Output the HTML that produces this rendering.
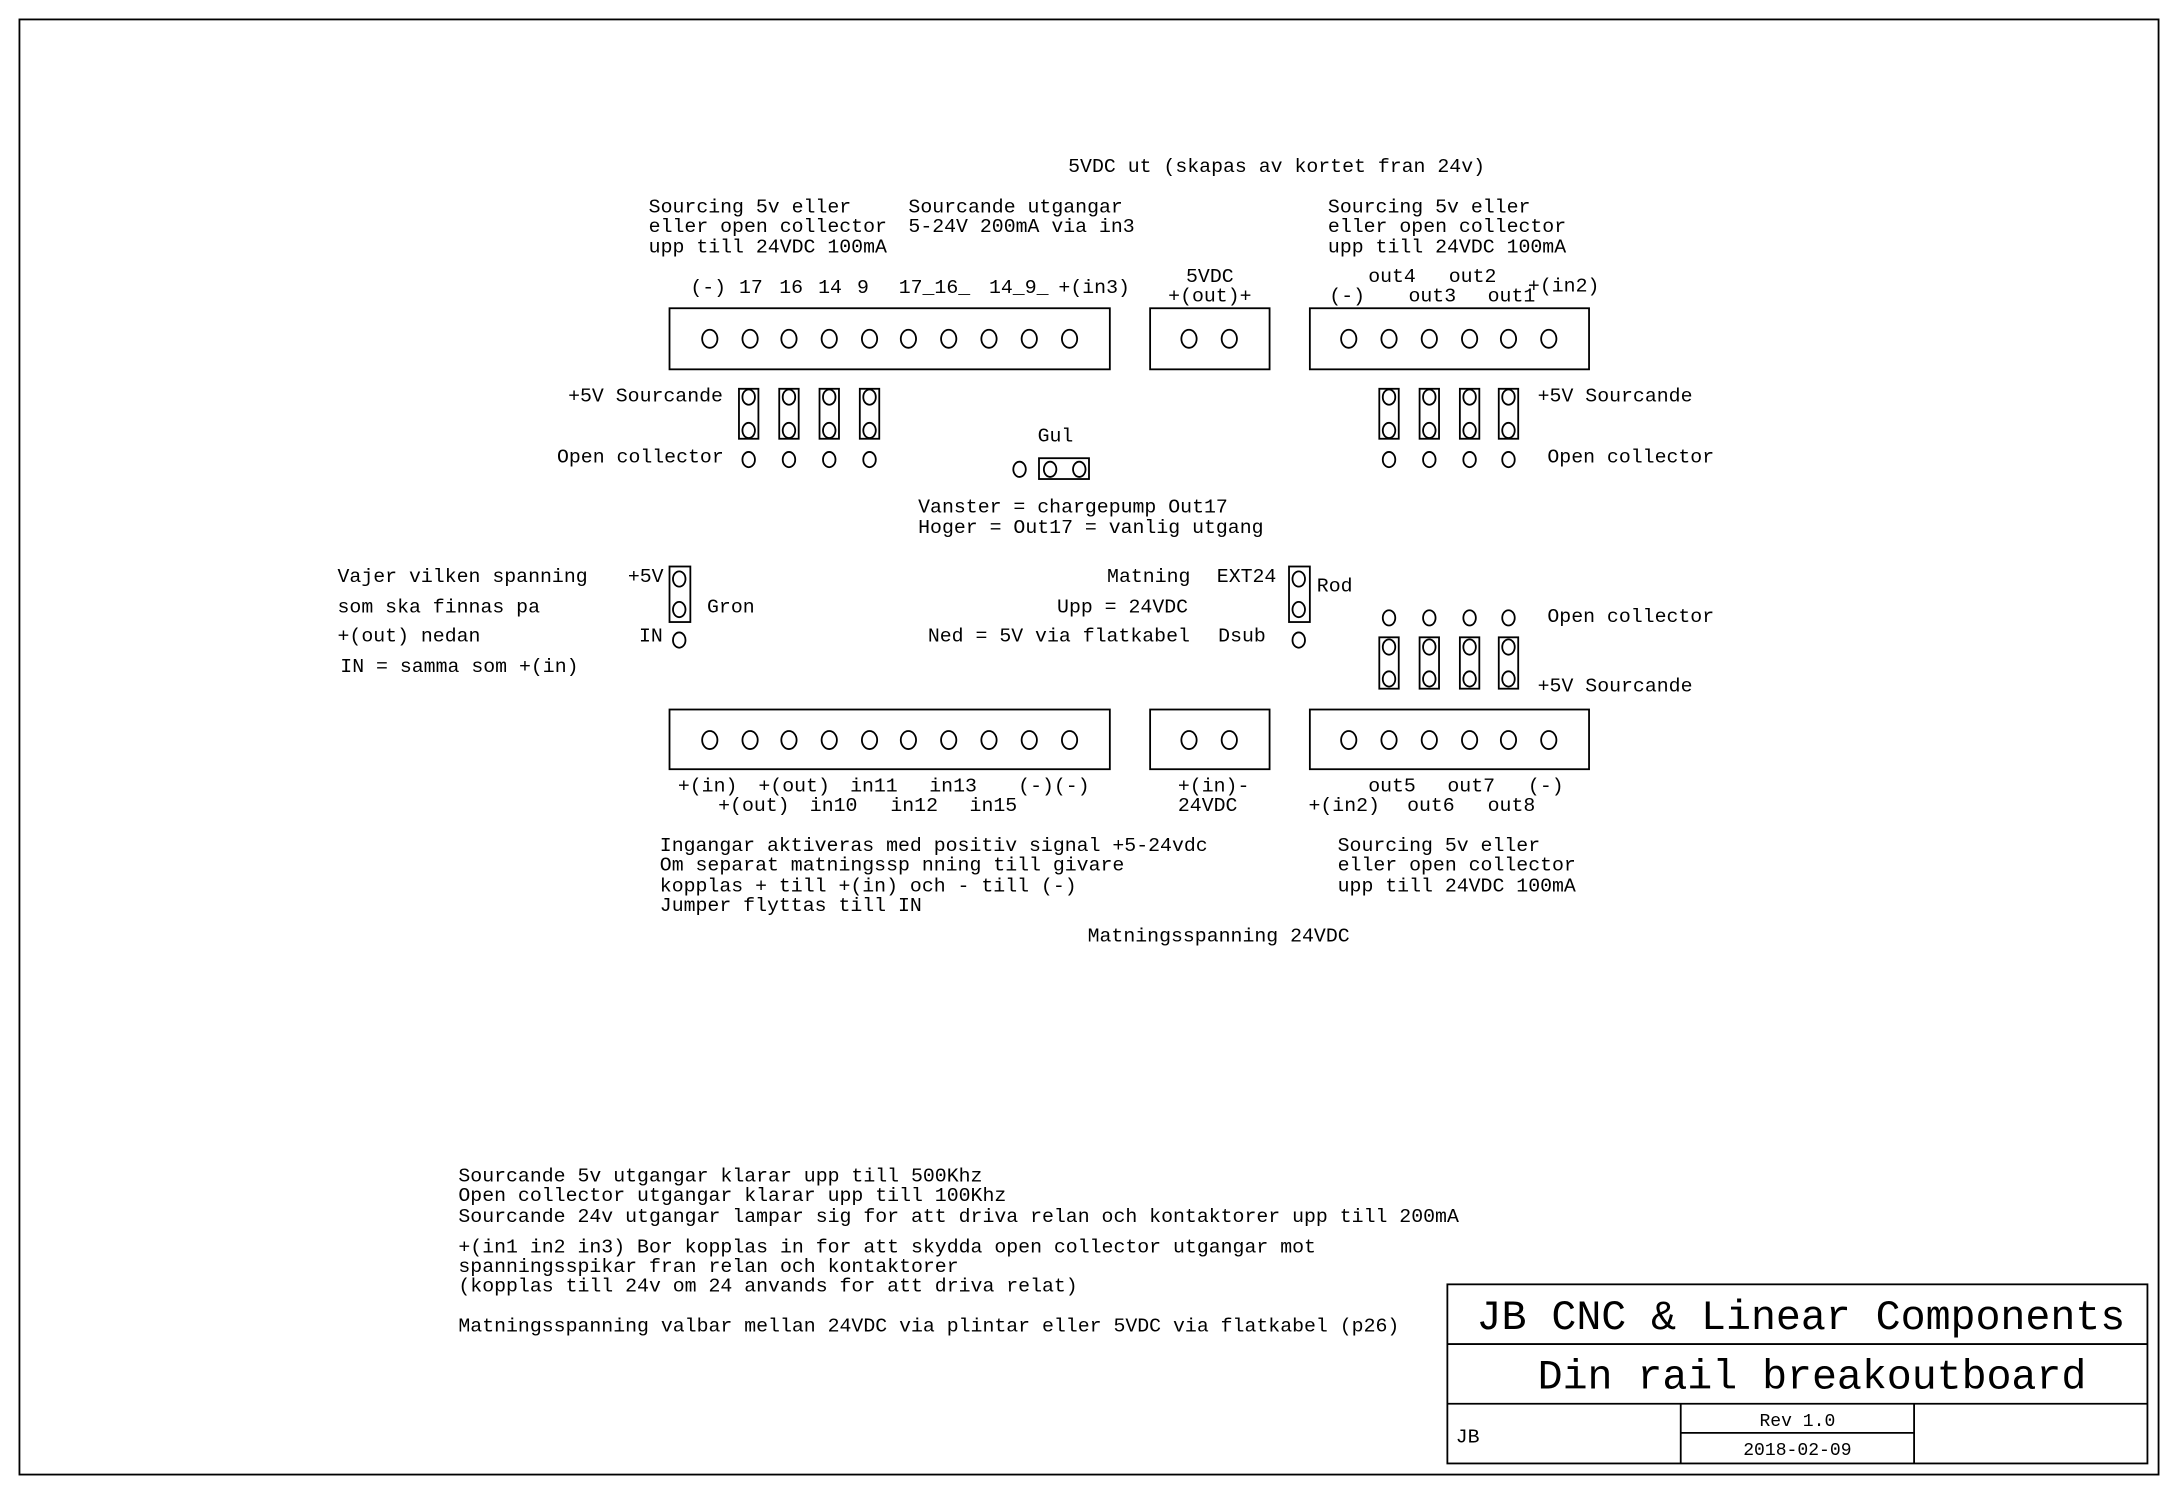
<!DOCTYPE html>
<html><head><meta charset="utf-8"><style>
html,body{margin:0;padding:0;background:#fff;}
svg{display:block;}
text{font-family:"Liberation Mono",monospace;font-size:14.3px;fill:#000;}
.c{text-anchor:middle;}
</style></head><body>
<svg width="2178" height="1494" viewBox="0 0 1568 1076" preserveAspectRatio="none" xmlns="http://www.w3.org/2000/svg">
<g fill="none" stroke="#000" stroke-width="1.3">
<rect x="14" y="14" width="1540" height="1048"/>
<rect x="1042" y="925" width="504" height="129"/>
<line x1="1042" y1="968" x2="1546" y2="968"/>
<line x1="1042" y1="1011" x2="1546" y2="1011"/>
<line x1="1210" y1="1011" x2="1210" y2="1054"/>
<line x1="1378" y1="1011" x2="1378" y2="1054"/>
<line x1="1210" y1="1032" x2="1378" y2="1032"/>
<!-- top connectors -->
<rect x="482" y="222" width="317" height="44"/>
<rect x="828" y="222" width="86" height="44"/>
<rect x="943" y="222" width="201" height="44"/>
<!-- bottom connectors -->
<rect x="482" y="511" width="317" height="43"/>
<rect x="828" y="511" width="86" height="43"/>
<rect x="943" y="511" width="201" height="43"/>
<g id="c10">
<ellipse cx="511" cy="244" rx="5.5" ry="6.5"/><ellipse cx="540" cy="244" rx="5.5" ry="6.5"/><ellipse cx="568" cy="244" rx="5.5" ry="6.5"/><ellipse cx="597" cy="244" rx="5.5" ry="6.5"/><ellipse cx="626" cy="244" rx="5.5" ry="6.5"/><ellipse cx="654" cy="244" rx="5.5" ry="6.5"/><ellipse cx="683" cy="244" rx="5.5" ry="6.5"/><ellipse cx="712" cy="244" rx="5.5" ry="6.5"/><ellipse cx="741" cy="244" rx="5.5" ry="6.5"/><ellipse cx="770" cy="244" rx="5.5" ry="6.5"/>
<ellipse cx="856" cy="244" rx="5.5" ry="6.5"/><ellipse cx="885" cy="244" rx="5.5" ry="6.5"/>
<ellipse cx="971" cy="244" rx="5.5" ry="6.5"/><ellipse cx="1000" cy="244" rx="5.5" ry="6.5"/><ellipse cx="1029" cy="244" rx="5.5" ry="6.5"/><ellipse cx="1058" cy="244" rx="5.5" ry="6.5"/><ellipse cx="1086" cy="244" rx="5.5" ry="6.5"/><ellipse cx="1115" cy="244" rx="5.5" ry="6.5"/>
</g>
<use href="#c10" transform="translate(0,289)"/>
<!-- left top jumpers -->
<g id="jl">
<rect x="532" y="280" width="14" height="36"/>
<ellipse cx="539" cy="286" rx="4.5" ry="5.5"/><ellipse cx="539" cy="310" rx="4.5" ry="5.5"/>
<ellipse cx="539" cy="331" rx="4.5" ry="5.5"/>
</g>
<use href="#jl" transform="translate(29,0)"/>
<use href="#jl" transform="translate(58,0)"/>
<use href="#jl" transform="translate(87,0)"/>
<use href="#jl" transform="translate(461,0)"/>
<use href="#jl" transform="translate(490,0)"/>
<use href="#jl" transform="translate(519,0)"/>
<use href="#jl" transform="translate(547,0)"/>
<!-- right bottom jumpers -->
<g id="jr">
<ellipse cx="1000" cy="445" rx="4.5" ry="5.5"/>
<rect x="993" y="459" width="14" height="37"/>
<ellipse cx="1000" cy="466" rx="4.5" ry="5.5"/><ellipse cx="1000" cy="489" rx="4.5" ry="5.5"/>
</g>
<use href="#jr" transform="translate(29,0)"/>
<use href="#jr" transform="translate(58,0)"/>
<use href="#jr" transform="translate(86,0)"/>
<!-- Gul -->
<ellipse cx="734" cy="338" rx="4.5" ry="5.5"/>
<rect x="748" y="330" width="36" height="15"/>
<ellipse cx="756" cy="338" rx="4.5" ry="5.5"/><ellipse cx="777" cy="338" rx="4.5" ry="5.5"/>
<!-- Gron -->
<rect x="482" y="408" width="15" height="40"/>
<ellipse cx="489" cy="417" rx="4.5" ry="5.5"/><ellipse cx="489" cy="439" rx="4.5" ry="5.5"/>
<ellipse cx="489" cy="461" rx="4.5" ry="5.5"/>
<!-- Rod -->
<rect x="928" y="408" width="15" height="40"/>
<ellipse cx="935" cy="417" rx="4.5" ry="5.5"/><ellipse cx="935" cy="439" rx="4.5" ry="5.5"/>
<ellipse cx="935" cy="461" rx="4.5" ry="5.5"/>
</g>

<text x="769" y="124">5VDC ut (skapas av kortet fran 24v)</text>
<text x="467" y="153">Sourcing 5v eller</text>
<text x="467" y="167">eller open collector</text>
<text x="467" y="182">upp till 24VDC 100mA</text>
<text x="654" y="153">Sourcande utgangar</text>
<text x="654" y="167">5-24V 200mA via in3</text>
<text x="956" y="153">Sourcing 5v eller</text>
<text x="956" y="167">eller open collector</text>
<text x="956" y="182">upp till 24VDC 100mA</text>

<text x="497" y="211">(-)</text><text x="532" y="211">17</text><text x="561" y="211">16</text><text x="589" y="211">14</text><text x="617" y="211">9</text>
<text x="647" y="211">17_16_</text><text x="712" y="211">14_9_</text><text x="762" y="211">+(in3)</text>
<text class="c" x="871" y="203">5VDC</text><text class="c" x="871" y="217">+(out)+</text>
<text x="985" y="203">out4</text><text x="1043" y="203">out2</text>
<text x="957" y="217">(-)</text><text x="1014" y="217">out3</text><text x="1071" y="217">out1</text><text x="1100" y="210">+(in2)</text>

<text x="409" y="289">+5V Sourcande</text>
<text x="401" y="333">Open collector</text>
<text x="1107" y="289">+5V Sourcande</text>
<text x="1114" y="333">Open collector</text>
<text x="747" y="318">Gul</text>
<text x="661" y="369">Vanster = chargepump Out17</text>
<text x="661" y="384">Hoger = Out17 = vanlig utgang</text>

<text x="243" y="419">Vajer vilken spanning</text>
<text x="243" y="441">som ska finnas pa</text>
<text x="243" y="462">+(out) nedan</text>
<text x="245" y="484">IN = samma som +(in)</text>
<text x="452" y="419">+5V</text><text x="509" y="441">Gron</text><text x="460" y="462">IN</text>
<text x="797" y="419">Matning</text><text x="876" y="419">EXT24</text><text x="948" y="426">Rod</text>
<text x="761" y="441">Upp = 24VDC</text>
<text x="668" y="462">Ned = 5V via flatkabel</text><text x="877" y="462">Dsub</text>
<text x="1114" y="448">Open collector</text>
<text x="1107" y="498">+5V Sourcande</text>

<text x="488" y="570">+(in)</text><text x="546" y="570">+(out)</text><text x="612" y="570">in11</text><text x="669" y="570">in13</text><text x="733" y="570">(-)(-)</text>
<text x="517" y="584">+(out)</text><text x="583" y="584">in10</text><text x="641" y="584">in12</text><text x="698" y="584">in15</text>
<text x="848" y="570">+(in)-</text><text x="848" y="584">24VDC</text>
<text x="985" y="570">out5</text><text x="1042" y="570">out7</text><text x="1100" y="570">(-)</text>
<text x="942" y="584">+(in2)</text><text x="1013" y="584">out6</text><text x="1071" y="584">out8</text>

<text x="475" y="613">Ingangar aktiveras med positiv signal +5-24vdc</text>
<text x="475" y="627">Om separat matningssp nning till givare</text>
<text x="475" y="642">kopplas + till +(in) och - till (-)</text>
<text x="475" y="656">Jumper flyttas till IN</text>
<text x="963" y="613">Sourcing 5v eller</text>
<text x="963" y="627">eller open collector</text>
<text x="963" y="642">upp till 24VDC 100mA</text>
<text x="783" y="678">Matningsspanning 24VDC</text>

<text x="330" y="851">Sourcande 5v utgangar klarar upp till 500Khz</text>
<text x="330" y="865">Open collector utgangar klarar upp till 100Khz</text>
<text x="330" y="880">Sourcande 24v utgangar lampar sig for att driva relan och kontaktorer upp till 200mA</text>
<text x="330" y="902">+(in1 in2 in3) Bor kopplas in for att skydda open collector utgangar mot</text>
<text x="330" y="916">spanningsspikar fran relan och kontaktorer</text>
<text x="330" y="930">(kopplas till 24v om 24 anvands for att driva relat)</text>
<text x="330" y="959">Matningsspanning valbar mellan 24VDC via plintar eller 5VDC via flatkabel (p26)</text>

<text x="1063" y="957" style="font-size:30px" textLength="467">JB CNC &amp; Linear Components</text>
<text x="1107" y="1000" style="font-size:30px" textLength="395">Din rail breakoutboard</text>
<text x="1048" y="1039">JB</text>
<text class="c" x="1294" y="1027" style="font-size:13px">Rev 1.0</text>
<text class="c" x="1294" y="1048" style="font-size:13px">2018-02-09</text>
</svg>
</body></html>
